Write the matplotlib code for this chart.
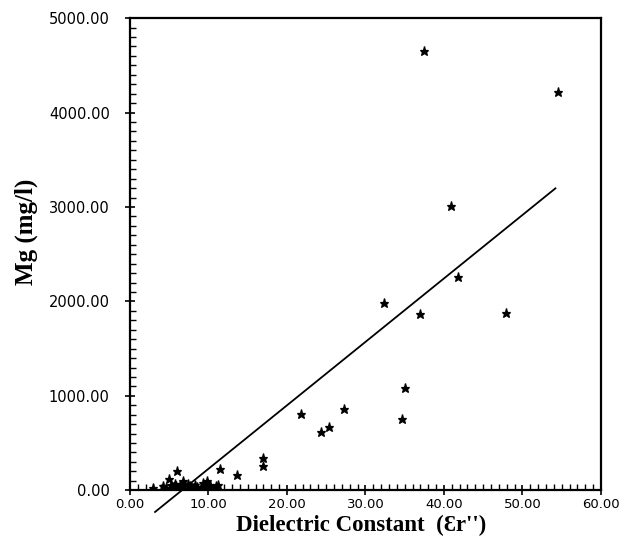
import matplotlib
matplotlib.use("Agg")
import matplotlib.pyplot as plt
from matplotlib.ticker import MultipleLocator, FormatStrFormatter

# Dielectric constant (Er'') vs. magnesium concentration (mg/l)
dielectric = [3.0, 4.2, 4.6, 5.0, 5.2, 5.5, 5.7, 5.9, 6.0, 6.2, 6.4, 6.6, 6.8,
              7.0, 7.2, 7.4, 7.7, 8.0, 8.3, 8.6, 9.0, 9.3, 9.6, 9.8, 10.2,
              10.6, 11.0, 11.2, 11.5, 13.6, 17.0, 17.0,
              21.8, 24.3, 25.3, 27.3, 32.4, 34.6, 35.1, 36.9, 37.4,
              40.9, 41.8, 47.9, 54.5]
magnesium = [25, 40, 20, 117, 55, 30, 70, 45, 205, 20, 60, 35, 95,
             50, 15, 70, 40, 25, 55, 30, 20, 75, 40, 95, 60,
             15, 45, 60, 230, 159, 346, 258,
             805, 618, 671, 858, 1981, 759, 1080, 1864, 4654,
             3012, 2260, 1875, 4219]

# Least-squares line drawn over the data
fit_slope = 67.2
fit_intercept = -445.0
fit_x = [3.2, 54.2]

fig = plt.figure(figsize=(6.40, 5.49), dpi=100)
ax = fig.add_axes([0.203, 0.107, 0.736, 0.860])

ax.plot(dielectric, magnesium, linestyle="none", marker="*", markersize=6.5,
        color="black", markeredgewidth=0.9)
fit_y = [fit_slope * v + fit_intercept for v in fit_x]
ax.plot(fit_x, fit_y, color="black", linewidth=1.3, clip_on=False)

ax.set_xlim(0, 60)
ax.set_ylim(0, 5000)

ax.xaxis.set_major_locator(MultipleLocator(10))
ax.xaxis.set_minor_locator(MultipleLocator(1))
ax.yaxis.set_major_locator(MultipleLocator(1000))
ax.yaxis.set_minor_locator(MultipleLocator(100))
ax.xaxis.set_major_formatter(FormatStrFormatter("%.2f"))
ax.yaxis.set_major_formatter(FormatStrFormatter("%.2f"))

ax.tick_params(which="major", direction="inout", length=7, width=1.2)
ax.tick_params(which="minor", direction="in", length=4, width=1.0)
ax.tick_params(axis="x", which="major", labelsize=9.5, pad=2)
ax.tick_params(axis="y", which="major", labelsize=10.5, pad=11)
ax.tick_params(top=False, right=False, which="both")
for lab in ax.get_xticklabels() + ax.get_yticklabels():
    lab.set_family(["DejaVu Sans"])

for side in ax.spines.values():
    side.set_linewidth(1.6)

serif_bold = ["Liberation Serif", "DejaVu Serif"]
fig.text(361 / 640, 1 - 525 / 549, "Dielectric Constant  (\u0190r'')",
         family=serif_bold, fontweight="bold", fontsize=16.5,
         ha="center", va="center")
fig.text(26 / 640, 1 - 232 / 549, "Mg (mg/l)", rotation=90,
         family=serif_bold, fontweight="bold", fontsize=18,
         ha="center", va="center")

fig.savefig("out.png", dpi=100)
